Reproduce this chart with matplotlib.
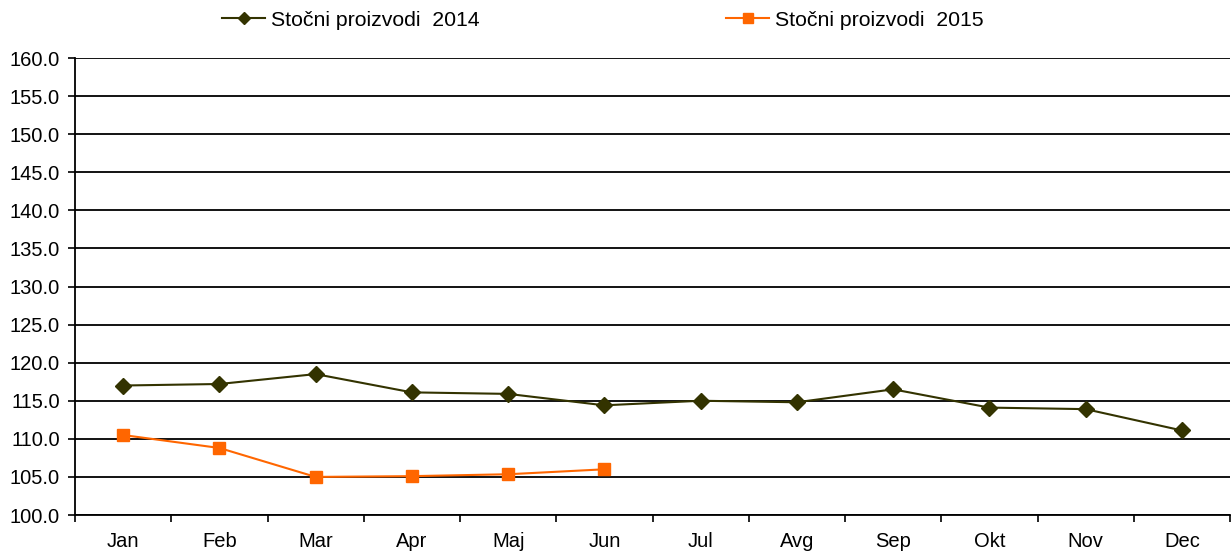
import numpy as np
from matplotlib import pyplot as plt

plt.rcParams['font.family'] = ['Liberation Sans', 'DejaVu Sans']

months = ["Jan", "Feb", "Mar", "Apr", "Maj", "Jun",
          "Jul", "Avg", "Sep", "Okt", "Nov", "Dec"]
vals_2014 = [117.0, 117.2, 118.5, 116.1, 115.9, 114.4,
             115.0, 114.8, 116.5, 114.1, 113.9, 111.1]
vals_2015 = [110.5, 108.8, 105.0, 105.1, 105.35, 106.0]
label_2014 = "Stočni proizvodi  2014"
label_2015 = "Stočni proizvodi  2015"

fig = plt.figure(figsize=(12.31, 5.52), dpi=100)
ax = fig.add_axes([75/1231, 37/552, 1155/1231, 457/552])

x = np.arange(len(months)) + 0.5
ax.plot(x, vals_2014, '-D', color='#333300', lw=1.5, ms=8,
        label=label_2014)
ax.plot(x[:len(vals_2015)], vals_2015, '-s', color='#FF6600', lw=1.5,
        ms=9, label=label_2015)

ax.set_xlim(0, 12)
ax.set_ylim(100, 160)
ax.set_yticks(np.arange(100, 161, 5))
ax.set_yticklabels([f"{v:.1f}" for v in np.arange(100, 161, 5)])
ax.yaxis.grid(True, color='black', lw=1.3)
ax.set_axisbelow(True)

# category axis: ticks between months, labels centered
ax.set_xticks(np.arange(0, 13))
ax.set_xticklabels([])
ax.set_xticks(x, minor=True)
ax.set_xticklabels(months, minor=True)
ax.tick_params(axis='x', which='minor', length=0, pad=12, labelsize=14.5)
ax.tick_params(axis='x', which='major', length=5, width=1.2, color='black')
ax.tick_params(axis='y', length=5, width=1.2, labelsize=14.5, pad=6)

for s in ['top', 'right']:
    ax.spines[s].set_visible(False)
for s in ['left', 'bottom']:
    ax.spines[s].set_linewidth(1.3)

leg = fig.legend(loc='upper center', bbox_to_anchor=(0.490, 1.015), ncol=2,
                 frameon=False, fontsize=15.3, handlelength=2.0,
                 handletextpad=0.3, columnspacing=11.6, markerscale=0.8)

fig.savefig("out.png", dpi=100)
